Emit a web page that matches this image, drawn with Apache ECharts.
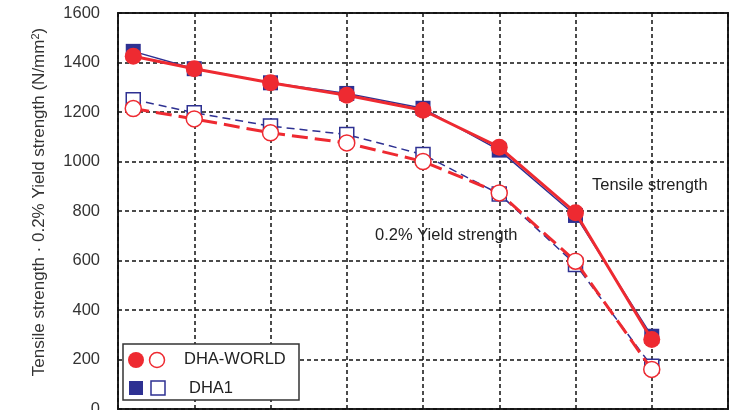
<!DOCTYPE html>
<html><head><meta charset="utf-8">
<script src="https://cdn.jsdelivr.net/npm/echarts@6/dist/echarts.min.js"></script>
<style>html,body{margin:0;padding:0;background:#fff}#c{width:741px;height:410px}</style>
</head><body><div id="c"></div>
<script>
const temps = [20, 100, 200, 300, 400, 500, 600, 700];
const dha1Tensile = [1445, 1375, 1318, 1275, 1215, 1046, 782, 294];
const dha1Yield = [1250, 1197, 1143, 1109, 1028, 869, 584, 173];
const worldTensile = [1425, 1375, 1318, 1268, 1207, 1058, 793, 281];
const worldYield = [1214, 1172, 1116, 1075, 1000, 873, 597, 160];
const yTicks = [0, 200, 400, 600, 800, 1000, 1200, 1400, 1600];

const RED = '#ee2a31', BLUE = '#2e3192';
const pair = (xs, ys) => xs.map((x, i) => [x, ys[i]]);
const font = 'Liberation Sans, Arial, sans-serif';

const chart = echarts.init(document.getElementById('c'), null, {renderer: 'canvas'});
chart.setOption({
  animation: false,
  backgroundColor: '#fff',
  grid: {left: 118, right: 13, top: 13, bottom: 1, show: true, borderColor: '#222', borderWidth: 2,
         backgroundColor: 'transparent', containLabel: false, outerBoundsMode: 'none'},
  xAxis: {
    type: 'value', min: 0, max: 800, interval: 100,
    axisLine: {show: false}, axisTick: {show: false}, axisLabel: {show: false},
    splitLine: {show: true, lineStyle: {color: '#111', type: [4, 3], width: 1.5}}
  },
  yAxis: {
    type: 'value', min: yTicks[0], max: yTicks[yTicks.length - 1], interval: 200,
    axisLine: {show: false}, axisTick: {show: false},
    axisLabel: {color: '#333', fontSize: 16.5, fontFamily: font, margin: 18, formatter: v => String(v)},
    splitLine: {show: true, lineStyle: {color: '#111', type: [4, 3], width: 1.5}},
    name: '{a|Tensile strength · 0.2% Yield strength (N/mm}{s|2}{a|)}',
    nameLocation: 'middle', nameGap: 69, nameRotate: 90,
    nameTextStyle: {
      padding: [0, 0, 0, 18],
      rich: {
        a: {fontSize: 17, color: '#333', fontFamily: font},
        s: {fontSize: 11, color: '#333', fontFamily: font, verticalAlign: 'top', padding: [0, 0, 8, 0]}
      }
    }
  },
  series: [
    {name: 'DHA1 yield', type: 'line', data: pair(temps, dha1Yield), symbol: 'rect', symbolSize: 14,
     lineStyle: {color: BLUE, width: 1.5, type: [8, 5]},
     itemStyle: {color: '#fff', borderColor: BLUE, borderWidth: 1.5}, z: 2},
    {name: 'DHA1 tensile', type: 'line', data: pair(temps, dha1Tensile), symbol: 'rect', symbolSize: 15,
     lineStyle: {color: BLUE, width: 1.5},
     itemStyle: {color: BLUE, borderWidth: 0}, z: 2},
    {name: 'DHA-WORLD yield', type: 'line', data: pair(temps, worldYield), symbol: 'circle', symbolSize: 16,
     lineStyle: {color: RED, width: 3, type: [16, 7]},
     itemStyle: {color: '#fff', borderColor: RED, borderWidth: 1.5}, z: 3},
    {name: 'DHA-WORLD tensile', type: 'line', data: pair(temps, worldTensile), symbol: 'circle', symbolSize: 17,
     lineStyle: {color: RED, width: 3},
     itemStyle: {color: RED, borderWidth: 0}, z: 3}
  ],
  graphic: [
    {type: 'text', left: 592, top: 177, z: 10, style: {text: 'Tensile strength', font: '16.5px ' + font, fill: '#222'}},
    {type: 'text', left: 375, top: 227, z: 10, style: {text: '0.2% Yield strength', font: '16.5px ' + font, fill: '#222'}},
    {type: 'rect', z: 20, shape: {x: 123, y: 344, width: 176, height: 56}, style: {fill: '#fff', stroke: '#333', lineWidth: 1.5}},
    {type: 'circle', z: 21, shape: {cx: 136, cy: 360, r: 8}, style: {fill: RED}},
    {type: 'circle', z: 21, shape: {cx: 157, cy: 360, r: 7.5}, style: {fill: '#fff', stroke: RED, lineWidth: 1.5}},
    {type: 'text', z: 21, x: 184, y: 351, style: {text: 'DHA-WORLD', font: '16.5px ' + font, fill: '#222'}},
    {type: 'rect', z: 21, shape: {x: 129, y: 381, width: 14, height: 14}, style: {fill: BLUE}},
    {type: 'rect', z: 21, shape: {x: 151, y: 381, width: 14, height: 14}, style: {fill: '#fff', stroke: BLUE, lineWidth: 1.5}},
    {type: 'text', z: 21, x: 189, y: 380, style: {text: 'DHA1', font: '16.5px ' + font, fill: '#222'}}
  ]
});
</script></body></html>
